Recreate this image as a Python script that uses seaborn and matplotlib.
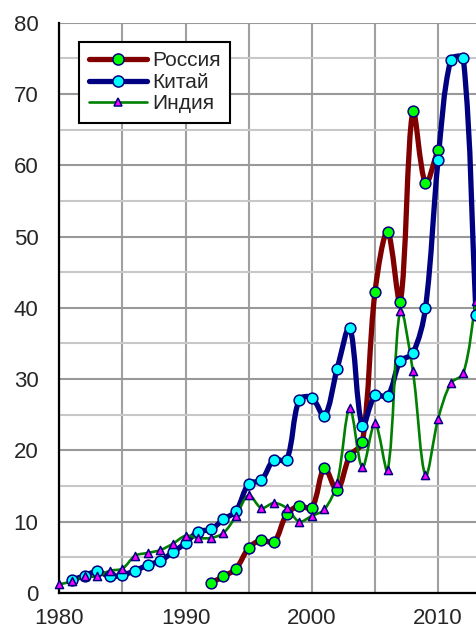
import numpy as np
import matplotlib
matplotlib.use("Agg")
import matplotlib.pyplot as plt
from matplotlib.path import Path
from matplotlib.patches import PathPatch
from matplotlib.lines import Line2D
from matplotlib.ticker import MultipleLocator
import seaborn as sns

# Data
years_russia = list(range(1992, 2011))
russia = [1.4, 2.3, 3.4, 6.3, 7.4, 7.1, 11.0, 12.2, 11.9, 17.5,
          14.4, 19.2, 21.1, 42.2, 50.7, 40.8, 67.6, 57.5, 62.2]

years_china = list(range(1981, 2014))
china = [1.8, 2.4, 3.0, 2.3, 2.5, 3.1, 3.9, 4.5, 5.7, 7.0,
         8.6, 8.9, 10.3, 11.5, 15.3, 15.8, 18.7, 18.6, 27.1, 27.4,
         24.8, 31.4, 37.2, 23.4, 27.7, 27.6, 32.5, 33.6, 40.0, 60.8,
         74.8, 75.0, 39.0]

years_india = list(range(1980, 2014))
india = [1.2, 1.6, 2.3, 2.3, 3.1, 3.4, 5.2, 5.6, 6.0, 6.9,
         8.0, 7.7, 7.7, 8.4, 10.8, 13.7, 11.9, 12.6, 11.9, 10.0,
         10.8, 11.7, 15.4, 25.9, 17.6, 23.8, 17.2, 39.6, 31.1, 16.5,
         24.4, 29.4, 30.8, 41.0]

labels = ["Россия", "Китай", "Индия"]

sns.set_style("white")
plt.rcParams["font.family"] = ["Liberation Sans", "DejaVu Sans"]


# Excel-style smoothed line: Bezier segments through the data points,
# tangents weighted by the on-screen segment lengths
def smooth_path(ax, xs, ys):
    pts = np.column_stack([xs, ys]).astype(float)
    pix = ax.transData.transform(pts)
    n = len(pts)
    verts = [pts[0]]
    codes = [Path.MOVETO]
    for i in range(n - 1):
        i0, i3 = max(i - 1, 0), min(i + 2, n - 1)
        p0, p1, p2, p3 = pts[i0], pts[i], pts[i + 1], pts[i3]
        d01 = np.linalg.norm(pix[i] - pix[i0])
        d12 = np.linalg.norm(pix[i + 1] - pix[i])
        d23 = np.linalg.norm(pix[i3] - pix[i + 1])
        w1 = d12 / (d01 + d12) / 3 if d01 + d12 > 0 else 0
        w2 = d12 / (d12 + d23) / 3 if d12 + d23 > 0 else 0
        verts += [p1 + (p2 - p0) * w1, p2 - (p3 - p1) * w2, p2]
        codes += [Path.CURVE4] * 3
    return Path(verts, codes)


fig = plt.figure(figsize=(4.76, 6.31), dpi=100)
ax = fig.add_axes([0.1246, 0.0605, 1 - 0.1246, 0.964 - 0.0605])
ax.set_xlim(1980, 2013)
ax.set_ylim(0, 80)

series = [
    (years_russia, russia, "#800000", 3.8, "o", "#00ff00", 60),
    (years_china, china, "#000080", 3.8, "o", "#00ffff", 60),
    (years_india, india, "#008000", 1.9, "^", "#ff00ff", 34),
]

for xs, ys, lc, lw, mk, mfc, ms in series:
    ax.add_patch(PathPatch(smooth_path(ax, xs, ys), fill=False, edgecolor=lc,
                           lw=lw, capstyle="round", joinstyle="round", zorder=3))

for xs, ys, lc, lw, mk, mfc, ms in series:
    sns.scatterplot(x=xs, y=ys, marker=mk, s=ms, color=mfc,
                    edgecolor="#000080", linewidth=1.1, zorder=4, ax=ax)
for coll in ax.collections:
    coll.set_clip_on(False)

ax.set_xlim(1980, 2013)
ax.set_ylim(0, 80)

ax.xaxis.set_major_locator(MultipleLocator(10))
ax.xaxis.set_minor_locator(MultipleLocator(5))
ax.yaxis.set_major_locator(MultipleLocator(10))
ax.yaxis.set_minor_locator(MultipleLocator(5))

ax.grid(which="major", axis="x", color="#a0a0a0", lw=1.5)
ax.grid(which="minor", axis="x", color="#a0a0a0", lw=1.5)
ax.grid(which="major", axis="y", color="#999999", lw=1.5)
ax.grid(which="minor", axis="y", color="#c8c8c8", lw=1.5)
ax.set_axisbelow(True)

for side in ["top", "right"]:
    ax.spines[side].set_visible(False)
for side in ["left", "bottom"]:
    ax.spines[side].set_color("black")
    ax.spines[side].set_linewidth(1.6)

ax.tick_params(axis="both", which="major", direction="out", length=6,
               width=1.5, color="black", labelsize=16, pad=6)
ax.tick_params(axis="x", which="minor", direction="out", length=6,
               width=1.5, color="black")
ax.tick_params(axis="y", which="minor", length=0)
ax.tick_params(axis="x", which="major", pad=5)
ax.tick_params(axis="y", which="major", pad=9)

handles = []
for xs, ys, lc, lw, mk, mfc, ms in series:
    handles.append(Line2D([], [], color=lc, lw=lw, marker=mk,
                          markerfacecolor=mfc, markeredgecolor="#000080",
                          markeredgewidth=1.1,
                          markersize=8 if mk == "o" else 6,
                          solid_capstyle="round"))

leg = ax.legend(handles, labels, loc="upper left",
                bbox_to_anchor=(0.048, 0.966), borderaxespad=0,
                fontsize=15, handlelength=2.8, handletextpad=0.25,
                labelspacing=0.12, borderpad=0.45, numpoints=1,
                fancybox=False, framealpha=1, edgecolor="black")
leg.get_frame().set_linewidth(1.5)
leg.set_zorder(6)

plt.savefig("out.png", dpi=100)
